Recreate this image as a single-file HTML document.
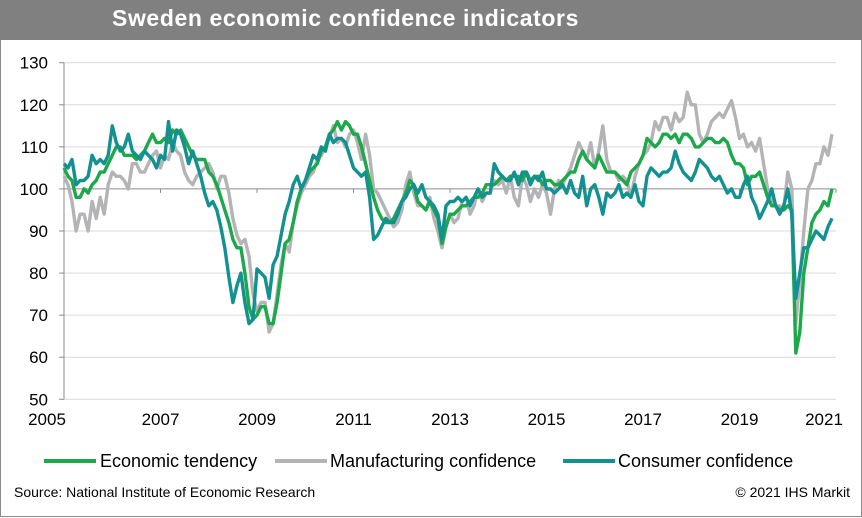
<!DOCTYPE html>
<html><head><meta charset="utf-8"><style>
body{margin:0;width:862px;height:518px;overflow:hidden;background:#fff;font-family:"Liberation Sans",Arial,sans-serif}
#frame{position:absolute;left:0;top:0;width:860px;height:516px;border:1px solid #8a8a8a;border-top:none}
#hdr{position:absolute;left:0;top:0;width:862px;height:40px;background:#808080}
#title{position:absolute;left:112px;top:5px;color:#fff;font-weight:bold;font-size:23px;letter-spacing:0.6px}
</style></head><body>
<div id="frame"></div>
<div id="hdr"><div id="title">Sweden economic confidence indicators</div></div>
<svg id="chart" width="862" height="518" style="position:absolute;left:0;top:0"></svg>
<script>
const yTicks=[50,60,70,80,90,100,110,120,130];
const xTickLabels=["2005","2007","2009","2011","2013","2015","2017","2019","2021"];
const xTickYears=[2005,2007,2009,2011,2013,2015,2017,2019,2021];
const economicTendency=[105,103,102,98,98,100,99,101,102,104,104,106,108,110,110,108,108,108,107,108,109,111,113,111,111,112,111,114,113,114,112,110,108,107,107,107,104,103,101,98,95,92,88,86,86,80,72,69,70,72,72,68,68,73,80,87,88,92,97,100,102,104,105,106,109,110,113,114,116,114,116,115,113,113,110,106,102,98,95,93,92,92,93,95,97,99,102,101,97,96,95,97,95,93,87,91,94,94,95,96,96,97,98,98,99,101,101,101,102,103,102,103,103,103,102,104,102,103,103,101,102,102,101,101,102,103,104,104,107,109,107,106,105,108,106,104,104,104,103,102,101,104,105,106,108,112,111,110,111,113,113,112,113,111,113,113,112,110,110,111,112,112,111,111,112,111,108,106,106,105,101,103,103,104,101,98,96,96,95,95,96,95,61,66,80,86,92,94,95,97,96,100];
const manufacturing=[103,101,97,90,94,94,90,97,93,98,94,101,104,103,103,102,100,106,106,104,104,106,108,109,105,108,107,111,109,108,104,102,101,103,104,105,106,104,100,103,103,99,93,89,87,88,84,75,71,73,73,66,68,75,82,87,85,92,96,99,101,103,104,107,108,110,112,115,111,112,110,113,114,111,107,113,108,100,99,97,95,93,91,92,95,101,104,99,96,96,95,98,93,90,86,91,94,92,93,97,98,94,96,100,97,99,99,102,101,102,99,103,98,96,103,101,97,100,98,101,99,94,100,102,101,103,105,108,111,109,107,111,105,109,115,107,104,104,102,103,102,98,103,106,108,109,111,116,114,117,117,114,118,116,117,123,120,120,113,111,113,116,117,118,117,119,121,117,112,113,110,111,109,112,106,100,97,96,96,95,104,100,68,78,90,100,102,106,106,110,108,113];
const consumer=[106,105,107,101,102,102,103,108,106,107,106,108,115,111,109,110,113,109,108,107,109,108,107,105,108,107,116,109,114,113,110,106,109,106,103,99,96,97,95,91,86,79,73,77,80,73,68,69,81,80,79,74,82,84,89,94,97,101,103,100,102,105,108,107,110,109,113,111,112,112,111,108,105,104,103,104,98,88,89,91,93,92,92,94,97,98,100,101,99,101,98,97,96,94,88,96,97,97,98,97,98,96,98,100,98,99,99,106,104,103,102,102,104,101,104,104,101,103,102,104,100,100,99,100,101,99,102,99,98,103,96,100,101,98,94,99,98,99,101,98,99,98,101,97,96,103,105,104,103,104,104,105,109,106,104,103,102,104,107,106,105,103,102,103,101,99,100,98,98,101,103,98,96,93,95,97,100,96,94,96,100,94,74,80,86,86,88,90,89,88,91,93];
const NS='http://www.w3.org/2000/svg';
const svg=document.getElementById('chart');
const X0=64,X1=836,Y0=399.3,Y1=62.7;
function xMonth(i){return X0+(X1-X0)*i/192;}
function xYear(y){return X0+(X1-X0)*(y-2005)/16;}
function yVal(v){return Y0-(v-50)*(Y0-Y1)/80;}
function mk(tag,attrs,parent){const e=document.createElementNS(NS,tag);for(const k in attrs)e.setAttribute(k,attrs[k]);(parent||svg).appendChild(e);return e;}
yTicks.forEach(v=>{
  const g=mk('line',{x1:X0,x2:X1,y1:yVal(v),y2:yVal(v),stroke:v===100?'#8c8c8c':'#d9d9d9','stroke-width':1});
  
  
  const t=mk('line',{x1:X0-5,x2:X0,y1:yVal(v),y2:yVal(v),stroke:'#8c8c8c','stroke-width':1});
  
  
  const l=mk('text',{x:X0-16,y:yVal(v)+6,'text-anchor':'end','font-size':17,fill:'#000','font-family':'Liberation Sans, Arial, sans-serif'});
  l.textContent=v;
  
  
});
const ya=mk('line',{x1:X0,x2:X0,y1:Y1,y2:Y0,stroke:'#8c8c8c','stroke-width':1});


xTickYears.forEach((yr,i)=>{
  const t=mk('line',{x1:xYear(yr),x2:xYear(yr),y1:yVal(100),y2:yVal(100)+4,stroke:'#8c8c8c','stroke-width':1});
  
  
  let xx=xYear(yr); if(i===0)xx=47; if(i===xTickLabels.length-1)xx=xx-12;
  const l=mk('text',{x:xx,y:425,'text-anchor':'middle','font-size':17,fill:'#000','font-family':'Liberation Sans, Arial, sans-serif'});
  l.textContent=xTickLabels[i];
  
  
});
function series(arr,color,name){
  const d=arr.map((v,i)=>(i?'L':'M')+xMonth(i).toFixed(1)+' '+yVal(v).toFixed(1)).join(' ');
  const p=mk('path',{d:d,fill:'none',stroke:color,'stroke-width':3.4,'stroke-linejoin':'round'});
  
  
}
series(manufacturing,'#b4b4b6','manufacturing-confidence-line');
series(economicTendency,'#1ea84c','economic-tendency-line');
series(consumer,'#139191','consumer-confidence-line');
const leg=[['Economic tendency','#1ea84c',44,100],['Manufacturing confidence','#b4b4b6',275,330],['Consumer confidence','#139191',563,618]];
leg.forEach(([txt,c,lx,tx])=>{
  const g=mk('g',{});
  
  
  mk('line',{x1:lx,x2:lx+52,y1:461,y2:461,stroke:c,'stroke-width':4},g);
  const t=mk('text',{x:tx,y:467,'font-size':18,fill:'#000','font-family':'Liberation Sans, Arial, sans-serif'},g);
  t.textContent=txt;
});
const s=mk('text',{x:14,y:497,'font-size':14,fill:'#000','font-family':'Liberation Sans, Arial, sans-serif'});
s.textContent='Source: National Institute of Economic Research';


const c=mk('text',{x:850,y:497,'text-anchor':'end','font-size':14,fill:'#000','font-family':'Liberation Sans, Arial, sans-serif'});
c.textContent='© 2021 IHS Markit';


</script>
</body></html>
